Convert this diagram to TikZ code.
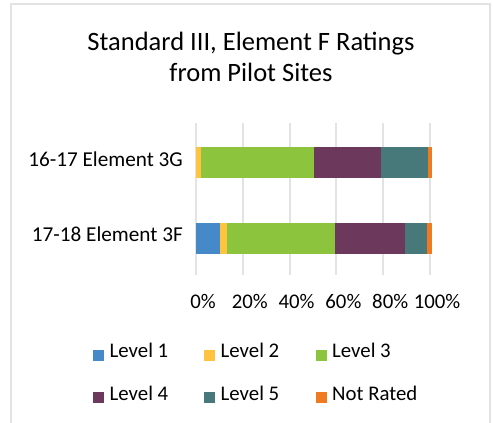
\documentclass[tikz,border=0pt]{standalone}
\usepackage{fontspec}
\setmainfont{Carlito}
\definecolor{lvone}{HTML}{4689C8}
\definecolor{lvtwo}{HTML}{FFC33F}
\definecolor{lvthree}{HTML}{8DC43E}
\definecolor{lvfour}{HTML}{6C385C}
\definecolor{lvfive}{HTML}{47797A}
\definecolor{lvnr}{HTML}{F07A22}
\definecolor{gridgray}{HTML}{E3E3E3}
\tikzset{
  ticklabel/.style={anchor=base, font=\fontsize{20.8}{24}\selectfont, inner sep=0pt},
  catlabel/.style={anchor=base east, font=\fontsize{21.2}{24}\selectfont, inner sep=0pt},
  keylabel/.style={anchor=base west, font=\fontsize{20.8}{24}\selectfont, inner sep=0pt},
  keybox/.style={minimum size=11pt, inner sep=0pt, anchor=south west}
}
\begin{document}
\begin{tikzpicture}[x=1pt,y=-1pt]
\useasboundingbox (0,0) rectangle (493,423);
% frame
\draw[gridgray, line width=2pt] (11,423)--(11,4)--(490,4)--(490,423);
% title
\node[font=\fontsize{26.5}{31}\selectfont, align=center, anchor=base, inner sep=0pt] (title) at (251,81) {Standard III, Element F Ratings\\from Pilot Sites};
% grid and axis labels
\foreach \p [count=\i from 0] in {0,20,40,60,80,100}{
  \draw[gridgray, line width=2pt] (196+46.8*\i,123) coordinate (gt\i) -- (196+46.8*\i,275) coordinate (gb\i);
  \node[ticklabel] (tick\i) at (203+46.8*\i,308) {\p\%};
}
% bars
\foreach \a/\b/\c in {196/201/lvtwo, 201/314/lvthree, 314/381/lvfour, 381/428/lvfive, 428/431.5/lvnr}
  \fill[\c] (\a,146.7) rectangle (\b,177.7);
\foreach \a/\b/\c in {196/220/lvone, 220/227/lvtwo, 227/335/lvthree, 335/405/lvfour, 405/427/lvfive, 427/431.5/lvnr}
  \fill[\c] (\a,222.7) rectangle (\b,254);
\node[catlabel] (catg) at (183,166.7) {16-17 Element 3G};
\node[catlabel] (catf) at (183,241.7) {17-18 Element 3F};
% legend
\foreach \x/\y/\c/\t [count=\k] in {93/357.7/lvone/Level 1, 204/357.7/lvtwo/Level 2, 315.5/357.7/lvthree/Level 3,
    93/400/lvfour/Level 4, 204/400/lvfive/Level 5, 315.5/400/lvnr/Not Rated}{
  \node[keybox, fill=\c] (key\k) at (\x,\y+3) {};
  \node[keylabel] (keytext\k) at (\x+16.5,\y) {\t};
}
\end{tikzpicture}
\end{document}
